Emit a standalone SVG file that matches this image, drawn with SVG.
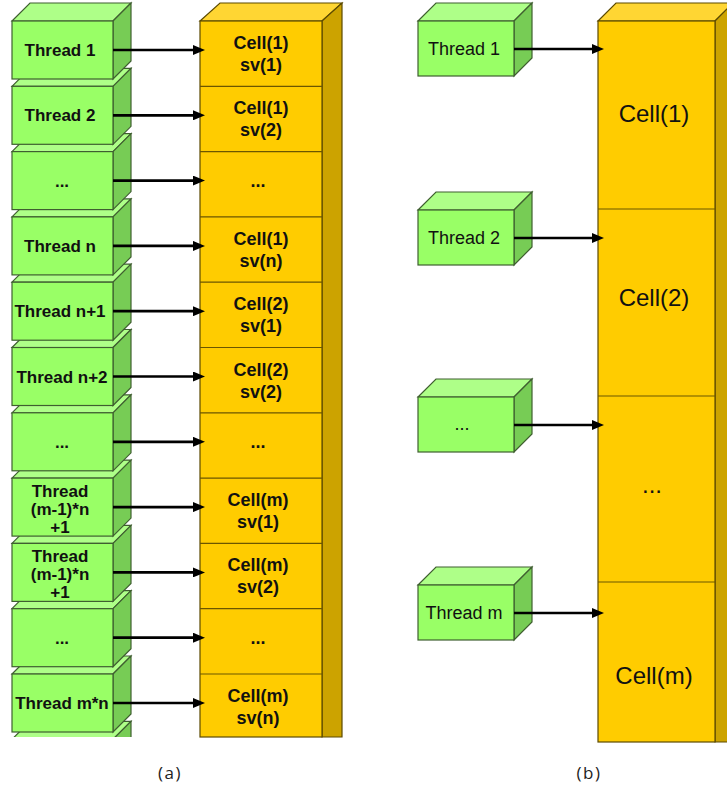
<svg xmlns="http://www.w3.org/2000/svg" width="727" height="792" viewBox="0 0 727 792">
<style>
.gf{fill:#99FF66;stroke:#3f5f30;stroke-width:1.2}
.gt{fill:#AEFF88;stroke:#3f5f30;stroke-width:1.2}
.gs{fill:#77CC55;stroke:#3f5f30;stroke-width:1.2}
.yf{fill:#FFCC00;stroke:#5c4a00;stroke-width:1.2}
.yt{fill:#FFD633;stroke:#5c4a00;stroke-width:1.2}
.ys{fill:#CCA300;stroke:#5c4a00;stroke-width:1.2}
.rl{stroke:#6b5600;stroke-width:1.2}
.ta{font-family:"Liberation Sans",Arial,sans-serif;font-weight:bold;font-size:17px;fill:#111;text-anchor:middle}
.ca{font-family:"Liberation Sans",Arial,sans-serif;font-weight:bold;font-size:18px;fill:#111;text-anchor:middle}
.tb{font-family:"Liberation Sans",Arial,sans-serif;font-size:18px;fill:#111;text-anchor:middle}
.cb{font-family:"Liberation Sans",Arial,sans-serif;font-size:24px;fill:#111;text-anchor:middle}
.cap{font-family:"Open Sans","Noto Sans",sans-serif;font-size:17px;letter-spacing:1.5px;fill:#222;text-anchor:middle}
.ar{stroke:#000;stroke-width:2.7;fill:none;marker-end:url(#ah)}
</style>
<defs>
<marker id="ah" markerUnits="userSpaceOnUse" markerWidth="12" markerHeight="10" refX="6" refY="5" orient="auto">
<path d="M0,0 L12,5 L0,10 z" fill="#000"/>
</marker>
<clipPath id="clipA"><rect x="0" y="0" width="360" height="737"/></clipPath>
</defs>

<!-- (a) thread boxes, drawn bottom-up -->
<g clip-path="url(#clipA)">
<g id="a-thread-12"><polygon class="gt" points="12,739.3 30,721.3 131,721.3 113,739.3"/><polygon class="gs" points="113,739.3 131,721.3 131,779.3 113,797.3"/><rect class="gf" x="12" y="739.3" width="101" height="58"/></g>
<g id="a-thread-11"><polygon class="gt" points="12,674 30,656 131,656 113,674"/><polygon class="gs" points="113,674 131,656 131,714 113,732"/><rect class="gf" x="12" y="674" width="101" height="58"/><text class="ta" x="62" y="709">Thread m*n</text></g>
<g id="a-thread-10"><polygon class="gt" points="12,608.7 30,590.7 131,590.7 113,608.7"/><polygon class="gs" points="113,608.7 131,590.7 131,648.7 113,666.7"/><rect class="gf" x="12" y="608.7" width="101" height="58"/><text class="ta" x="62" y="643.7">...</text></g>
<g id="a-thread-9"><polygon class="gt" points="12,543.4 30,525.4 131,525.4 113,543.4"/><polygon class="gs" points="113,543.4 131,525.4 131,583.4 113,601.4"/><rect class="gf" x="12" y="543.4" width="101" height="58"/><text class="ta" x="60" y="562">Thread</text><text class="ta" x="60" y="580">(m-1)*n</text><text class="ta" x="60" y="598">+1</text></g>
<g id="a-thread-8"><polygon class="gt" points="12,478.1 30,460.1 131,460.1 113,478.1"/><polygon class="gs" points="113,478.1 131,460.1 131,518.1 113,536.1"/><rect class="gf" x="12" y="478.1" width="101" height="58"/><text class="ta" x="60" y="497">Thread</text><text class="ta" x="60" y="515">(m-1)*n</text><text class="ta" x="60" y="533">+1</text></g>
<g id="a-thread-7"><polygon class="gt" points="12,412.8 30,394.8 131,394.8 113,412.8"/><polygon class="gs" points="113,412.8 131,394.8 131,452.8 113,470.8"/><rect class="gf" x="12" y="412.8" width="101" height="58"/><text class="ta" x="62" y="447.8">...</text></g>
<g id="a-thread-6"><polygon class="gt" points="12,347.5 30,329.5 131,329.5 113,347.5"/><polygon class="gs" points="113,347.5 131,329.5 131,387.5 113,405.5"/><rect class="gf" x="12" y="347.5" width="101" height="58"/><text class="ta" x="62" y="382.5">Thread n+2</text></g>
<g id="a-thread-5"><polygon class="gt" points="12,282.2 30,264.2 131,264.2 113,282.2"/><polygon class="gs" points="113,282.2 131,264.2 131,322.2 113,340.2"/><rect class="gf" x="12" y="282.2" width="101" height="58"/><text class="ta" x="60" y="317.2">Thread n+1</text></g>
<g id="a-thread-4"><polygon class="gt" points="12,216.9 30,198.9 131,198.9 113,216.9"/><polygon class="gs" points="113,216.9 131,198.9 131,256.9 113,274.9"/><rect class="gf" x="12" y="216.9" width="101" height="58"/><text class="ta" x="60" y="251.9">Thread n</text></g>
<g id="a-thread-3"><polygon class="gt" points="12,151.6 30,133.6 131,133.6 113,151.6"/><polygon class="gs" points="113,151.6 131,133.6 131,191.6 113,209.6"/><rect class="gf" x="12" y="151.6" width="101" height="58"/><text class="ta" x="62" y="186.6">...</text></g>
<g id="a-thread-2"><polygon class="gt" points="12,86.3 30,68.3 131,68.3 113,86.3"/><polygon class="gs" points="113,86.3 131,68.3 131,126.3 113,144.3"/><rect class="gf" x="12" y="86.3" width="101" height="58"/><text class="ta" x="60" y="121.3">Thread 2</text></g>
<g id="a-thread-1"><polygon class="gt" points="12,21 30,3 131,3 113,21"/><polygon class="gs" points="113,21 131,3 131,61 113,79"/><rect class="gf" x="12" y="21" width="101" height="58"/><text class="ta" x="60" y="56">Thread 1</text></g>
</g>

<!-- (a) cell column -->
<g id="a-cells">
<polygon class="yt" points="200,21 220,3 342,3 322,21"/>
<polygon class="ys" points="322,21 342,3 342,737 322,737"/>
<rect class="yf" x="200" y="21" width="122" height="716"/>
<g id="a-row-lines">
<line class="rl" x1="200" y1="86.3" x2="322" y2="86.3"/>
<line class="rl" x1="200" y1="151.6" x2="322" y2="151.6"/>
<line class="rl" x1="200" y1="216.9" x2="322" y2="216.9"/>
<line class="rl" x1="200" y1="282.2" x2="322" y2="282.2"/>
<line class="rl" x1="200" y1="347.5" x2="322" y2="347.5"/>
<line class="rl" x1="200" y1="412.8" x2="322" y2="412.8"/>
<line class="rl" x1="200" y1="478.1" x2="322" y2="478.1"/>
<line class="rl" x1="200" y1="543.4" x2="322" y2="543.4"/>
<line class="rl" x1="200" y1="608.7" x2="322" y2="608.7"/>
<line class="rl" x1="200" y1="674" x2="322" y2="674"/>
</g>
<g id="a-cell-1"><text class="ca" x="261" y="49">Cell(1)</text><text class="ca" x="261" y="71">sv(1)</text></g>
<g id="a-cell-2"><text class="ca" x="261" y="114.3">Cell(1)</text><text class="ca" x="261" y="136.3">sv(2)</text></g>
<g id="a-cell-3"><text class="ca" x="258" y="186.6">...</text></g>
<g id="a-cell-4"><text class="ca" x="261" y="244.9">Cell(1)</text><text class="ca" x="261" y="266.9">sv(n)</text></g>
<g id="a-cell-5"><text class="ca" x="261" y="310.2">Cell(2)</text><text class="ca" x="261" y="332.2">sv(1)</text></g>
<g id="a-cell-6"><text class="ca" x="261" y="375.5">Cell(2)</text><text class="ca" x="261" y="397.5">sv(2)</text></g>
<g id="a-cell-7"><text class="ca" x="258" y="447.8">...</text></g>
<g id="a-cell-8"><text class="ca" x="258" y="506.1">Cell(m)</text><text class="ca" x="258" y="528.1">sv(1)</text></g>
<g id="a-cell-9"><text class="ca" x="258" y="571.4">Cell(m)</text><text class="ca" x="258" y="593.4">sv(2)</text></g>
<g id="a-cell-10"><text class="ca" x="258" y="643.7">...</text></g>
<g id="a-cell-11"><text class="ca" x="258" y="702">Cell(m)</text><text class="ca" x="258" y="724">sv(n)</text></g>
</g>

<!-- (b) thread boxes -->
<g id="b-thread-1"><polygon class="gt" points="418,21 436,3 532,3 514,21"/><polygon class="gs" points="514,21 532,3 532,58 514,76"/><rect class="gf" x="418" y="21" width="96" height="55"/><text class="tb" x="464" y="55">Thread 1</text></g>
<g id="b-thread-2"><polygon class="gt" points="418,210 436,192 532,192 514,210"/><polygon class="gs" points="514,210 532,192 532,247 514,265"/><rect class="gf" x="418" y="210" width="96" height="55"/><text class="tb" x="464" y="244">Thread 2</text></g>
<g id="b-thread-3"><polygon class="gt" points="418,397 436,379 532,379 514,397"/><polygon class="gs" points="514,397 532,379 532,434 514,452"/><rect class="gf" x="418" y="397" width="96" height="55"/><text class="tb" x="462" y="430">...</text></g>
<g id="b-thread-m"><polygon class="gt" points="418,585 436,567 532,567 514,585"/><polygon class="gs" points="514,585 532,567 532,622 514,640"/><rect class="gf" x="418" y="585" width="96" height="55"/><text class="tb" x="464" y="619">Thread m</text></g>

<!-- (b) cell column -->
<g id="b-cells">
<polygon class="yt" points="598,21 616,3 733,3 715,21"/>
<polygon class="ys" points="715,21 733,3 733,742 715,742"/>
<rect class="yf" x="598" y="21" width="117" height="721"/>
<line class="rl" x1="598" y1="209" x2="715" y2="209"/>
<line class="rl" x1="598" y1="396" x2="715" y2="396"/>
<line class="rl" x1="598" y1="582" x2="715" y2="582"/>
<g id="b-cell-1"><text class="cb" x="654" y="122">Cell(1)</text></g>
<g id="b-cell-2"><text class="cb" x="654" y="306">Cell(2)</text></g>
<g id="b-cell-3"><text class="cb" x="652" y="493">...</text></g>
<g id="b-cell-m"><text class="cb" x="654" y="684">Cell(m)</text></g>
</g>

<!-- connectors -->
<g id="connectors">
<line class="ar" x1="113" y1="50" x2="199" y2="50"/>
<line class="ar" x1="113" y1="115.3" x2="199" y2="115.3"/>
<line class="ar" x1="113" y1="180.6" x2="199" y2="180.6"/>
<line class="ar" x1="113" y1="245.9" x2="199" y2="245.9"/>
<line class="ar" x1="113" y1="311.2" x2="199" y2="311.2"/>
<line class="ar" x1="113" y1="376.5" x2="199" y2="376.5"/>
<line class="ar" x1="113" y1="441.8" x2="199" y2="441.8"/>
<line class="ar" x1="113" y1="507.1" x2="199" y2="507.1"/>
<line class="ar" x1="113" y1="572.4" x2="199" y2="572.4"/>
<line class="ar" x1="113" y1="637.7" x2="199" y2="637.7"/>
<line class="ar" x1="113" y1="703" x2="199" y2="703"/>
<line class="ar" x1="514" y1="49" x2="598" y2="49"/>
<line class="ar" x1="514" y1="238" x2="598" y2="238"/>
<line class="ar" x1="514" y1="425" x2="598" y2="425"/>
<line class="ar" x1="514" y1="613" x2="598" y2="613"/>
</g>

<text class="cap" x="170" y="779">(a)</text>
<text class="cap" x="589" y="779">(b)</text>
</svg>
